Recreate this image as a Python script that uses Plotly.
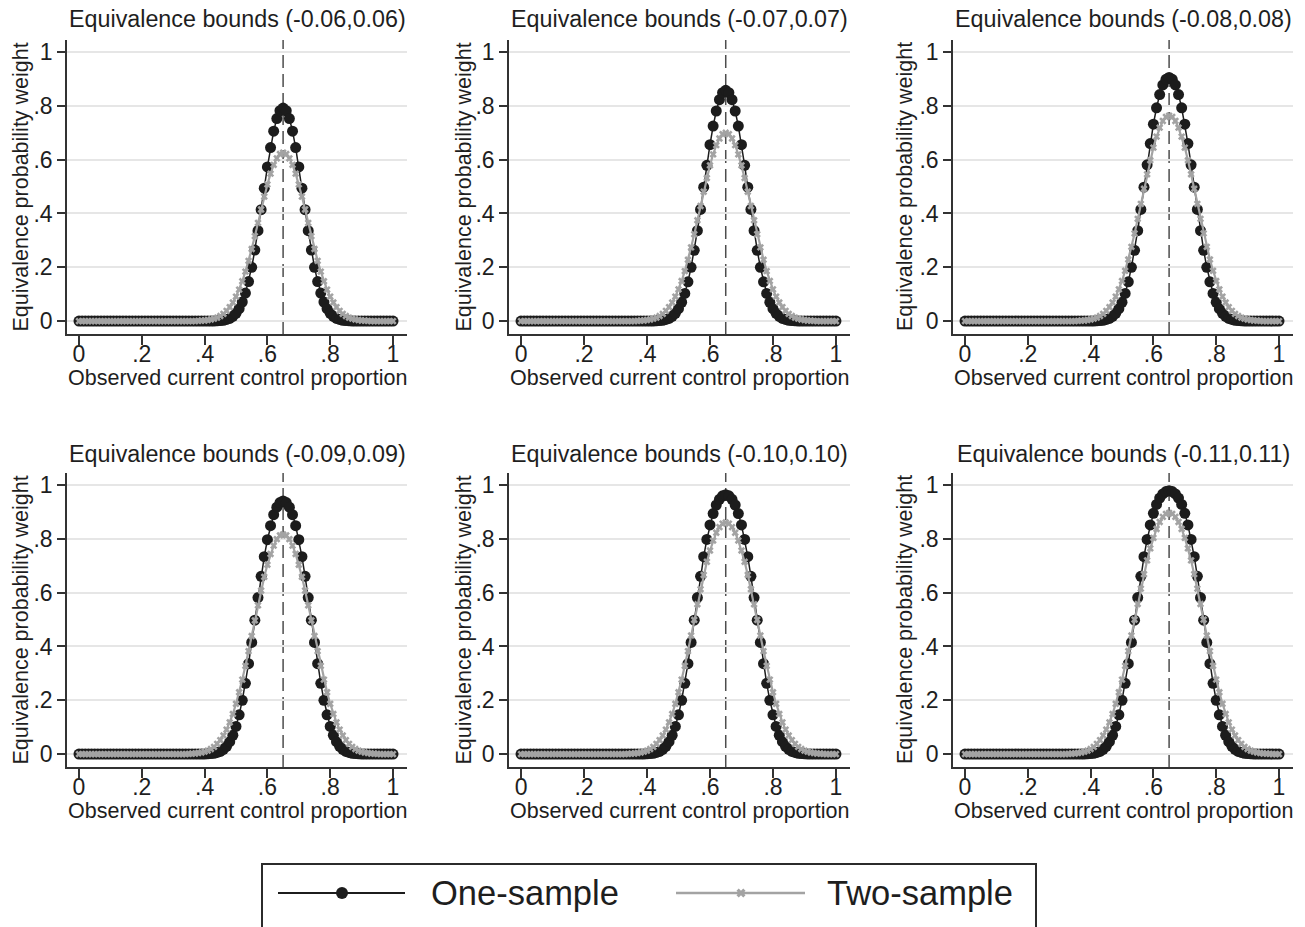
import plotly.graph_objects as go

# ---------------- data ----------------
x_vals = [round(i * 0.01, 2) for i in range(101)]   # observed current control proportion grid
center_value = 0.65
panel_titles = ["Equivalence bounds (-0.06,0.06)", "Equivalence bounds (-0.07,0.07)",
                "Equivalence bounds (-0.08,0.08)", "Equivalence bounds (-0.09,0.09)",
                "Equivalence bounds (-0.10,0.10)", "Equivalence bounds (-0.11,0.11)"]
tick_vals = [0, 0.2, 0.4, 0.6, 0.8, 1]
tick_text = ["0", ".2", ".4", ".6", ".8", "1"]
series_names = ["One-sample", "Two-sample"]

one_006 = [0] * 44 + [
    .001, .002, .003, .006, .010, .018, .029, .046, .071, .104, .147, .200, .264, .336, .414, .494, .573, .645, .706, .753, .782,
    .792,
    .782, .753, .706, .645, .573, .494, .414, .336, .264, .200, .147, .104, .071, .046, .029, .018, .010, .006, .003, .002, .001,
] + [0] * 14
two_006 = [0] * 38 + [
    .001, .002, .002, .004, .006, .009, .013, .019, .027, .038, .052, .069, .091, .117, .148, .184, .224, .268, .316, .365, .415, .463, .508, .548, .581, .605, .621,
    .626,
    .621, .605, .581, .548, .508, .463, .415, .365, .316, .268, .224, .184, .148, .117, .091, .069, .052, .038, .027, .019, .013, .009, .006, .004, .002, .002, .001,
] + [0] * 8

one_007 = [0] * 43 + [
    .001, .002, .003, .006, .010, .018, .029, .046, .070, .103, .146, .200, .263, .336, .415, .498, .579, .656, .725, .781, .823, .849,
    .858,
    .849, .823, .781, .725, .656, .579, .498, .415, .336, .263, .200, .146, .103, .070, .046, .029, .018, .010, .006, .003, .002, .001,
] + [0] * 13
two_007 = [0] * 37 + [
    .001, .002, .002, .004, .006, .009, .013, .019, .027, .038, .052, .069, .091, .118, .149, .186, .228, .274, .323, .375, .428, .481, .532, .579, .620, .654, .679, .695,
    .700,
    .695, .679, .654, .620, .579, .532, .481, .428, .375, .323, .274, .228, .186, .149, .118, .091, .069, .052, .038, .027, .019, .013, .009, .006, .004, .002, .002, .001,
] + [0] * 7

one_008 = [0] * 42 + [
    .001, .002, .003, .006, .010, .018, .029, .046, .070, .103, .146, .200, .263, .336, .415, .498, .581, .660, .732, .793, .842, .878, .899,
    .906,
    .899, .878, .842, .793, .732, .660, .581, .498, .415, .336, .263, .200, .146, .103, .070, .046, .029, .018, .010, .006, .003, .002, .001,
] + [0] * 12
two_008 = [0] * 36 + [
    .001, .002, .002, .004, .006, .009, .013, .019, .027, .038, .052, .069, .091, .118, .149, .187, .229, .276, .326, .380, .436, .492, .546, .598, .645, .686, .719, .744, .759,
    .764,
    .759, .744, .719, .686, .645, .598, .546, .492, .436, .380, .326, .276, .229, .187, .149, .118, .091, .069, .052, .038, .027, .019, .013, .009, .006, .004, .002, .002, .001,
] + [0] * 6

one_009 = [0] * 41 + [
    .001, .002, .003, .006, .010, .018, .029, .046, .070, .103, .146, .200, .263, .336, .415, .498, .582, .661, .734, .797, .849, .890, .918, .935,
    .941,
    .935, .918, .890, .849, .797, .734, .661, .582, .498, .415, .336, .263, .200, .146, .103, .070, .046, .029, .018, .010, .006, .003, .002, .001,
] + [0] * 11
two_009 = [0] * 35 + [
    .001, .002, .002, .004, .006, .009, .013, .019, .027, .038, .052, .069, .091, .118, .149, .187, .230, .277, .328, .383, .439, .497, .553, .608, .659, .704, .744, .775, .799, .813,
    .817,
    .813, .799, .775, .744, .704, .659, .608, .553, .497, .439, .383, .328, .277, .230, .187, .149, .118, .091, .069, .052, .038, .027, .019, .013, .009, .006, .004, .002, .002, .001,
] + [0] * 5

one_010 = [0] * 40 + [
    .001, .002, .003, .006, .010, .018, .029, .046, .070, .103, .146, .200, .263, .336, .415, .498, .582, .661, .734, .798, .852, .894, .926, .947, .960,
    .964,
    .960, .947, .926, .894, .852, .798, .734, .661, .582, .498, .415, .336, .263, .200, .146, .103, .070, .046, .029, .018, .010, .006, .003, .002, .001,
] + [0] * 10
two_010 = [0] * 34 + [
    .001, .002, .002, .004, .006, .009, .013, .019, .027, .038, .052, .069, .091, .118, .149, .187, .230, .277, .328, .383, .441, .499, .557, .613, .666, .715, .757, .794, .823, .844, .857,
    .861,
    .857, .844, .823, .794, .757, .715, .666, .613, .557, .499, .441, .383, .328, .277, .230, .187, .149, .118, .091, .069, .052, .038, .027, .019, .013, .009, .006, .004, .002, .002, .001,
] + [0] * 4

one_011 = [0] * 39 + [
    .001, .002, .003, .006, .010, .018, .029, .046, .070, .103, .146, .200, .263, .336, .415, .498, .582, .661, .734, .798, .852, .895, .928, .952, .967, .976,
    .979,
    .976, .967, .952, .928, .895, .852, .798, .734, .661, .582, .498, .415, .336, .263, .200, .146, .103, .070, .046, .029, .018, .010, .006, .003, .002, .001,
] + [0] * 9
two_011 = [0] * 33 + [
    .001, .002, .002, .004, .006, .009, .013, .019, .027, .038, .052, .069, .091, .118, .149, .187, .230, .277, .328, .383, .441, .500, .558, .615, .669, .720, .765, .804, .837, .863, .882, .893,
    .897,
    .893, .882, .863, .837, .804, .765, .720, .669, .615, .558, .500, .441, .383, .328, .277, .230, .187, .149, .118, .091, .069, .052, .038, .027, .019, .013, .009, .006, .004, .002, .002, .001,
] + [0] * 3

one_sample = [one_006, one_007, one_008, one_009, one_010, one_011]
two_sample = [two_006, two_007, two_008, two_009, two_010, two_011]
for s in one_sample + two_sample:
    assert len(s) == 101, len(s)

# ---------------- layout geometry (pixels) ----------------
W, H = 1305, 927
FONT = "Liberation Sans, Arial, Helvetica, sans-serif"
FS_AXT = 21.5     # axis titles
FS_TICK = 23      # tick labels
FS_TITLE = 23.3   # panel titles
TXT = "#1e1e1e"
BLACK = "#1c1c1c"
GRAY = "#a3a3a3"
AX = "#333333"

col_px = [(67, 407), (509, 850), (953, 1293)]
row_px = [(40, 334), (473, 767)]
ytitle_x = [20.5, 463.5, 905]
title_y = [19, 454]
xtitle_y = [378, 811]

fig = go.Figure()
layout = dict(
    width=W, height=H,
    margin=dict(l=0, r=0, t=0, b=0),
    paper_bgcolor="white", plot_bgcolor="rgba(0,0,0,0)",
    showlegend=False,
    font=dict(family=FONT, size=FS_AXT, color=TXT),
)
annotations = []
shapes = []

for p in range(6):
    r, c = divmod(p, 3)
    ax_id = "" if p == 0 else str(p + 1)
    xr, yr = f"x{ax_id}", f"y{ax_id}"
    x0, x1 = col_px[c]
    ytop, ybot = row_px[r]
    layout[f"xaxis{ax_id}"] = dict(
        domain=[x0 / W, x1 / W], anchor=yr, range=[-0.0382, 1.0446],
        showline=True, linecolor=AX, linewidth=1.5, mirror=False,
        ticks="outside", ticklen=9, tickwidth=1.5, tickcolor=AX,
        tickvals=tick_vals, ticktext=tick_text, showgrid=False, zeroline=False,
        tickfont=dict(family=FONT, size=FS_TICK, color=TXT), ticklabelstandoff=-10,
    )
    layout[f"yaxis{ax_id}"] = dict(
        domain=[1 - ybot / H, 1 - ytop / H], anchor=xr, range=[-0.048, 1.045],
        showline=True, linecolor=AX, linewidth=1.5, mirror=False,
        ticks="outside", ticklen=8, tickwidth=1.5, tickcolor=AX,
        tickvals=tick_vals, ticktext=tick_text,
        showgrid=True, gridcolor="#e6e6e6", gridwidth=1.5, zeroline=False,
        tickfont=dict(family=FONT, size=FS_TICK, color=TXT),
    )
    # dashed reference line at the true proportion
    shapes.append(dict(type="line", xref=xr, yref=f"{yr} domain", x0=center_value, x1=center_value,
                       y0=0, y1=1, line=dict(color="#4d4d4d", width=1.5, dash="13px,6px"), layer="below"))
    fig.add_trace(go.Scatter(
        x=x_vals, y=one_sample[p], xaxis=xr, yaxis=yr, name=series_names[0], mode="lines+markers",
        line=dict(color=BLACK, width=1.5), marker=dict(symbol="circle", size=11, color=BLACK),
        cliponaxis=False))
    fig.add_trace(go.Scatter(
        x=x_vals, y=two_sample[p], xaxis=xr, yaxis=yr, name=series_names[1], mode="lines+markers",
        line=dict(color=GRAY, width=2.2), marker=dict(symbol="x", size=6.5, color=GRAY, line=dict(width=0)),
        cliponaxis=False))
    xc = (x0 + x1) / 2
    annotations.append(dict(text=panel_titles[p], xref="paper", yref="paper", x=xc / W, y=1 - title_y[r] / H,
                            xanchor="center", yanchor="middle", showarrow=False,
                            font=dict(size=FS_TITLE, color=TXT)))
    annotations.append(dict(text="Observed current control proportion", xref="paper", yref="paper",
                            x=xc / W, y=1 - xtitle_y[r] / H, xanchor="center", yanchor="middle",
                            showarrow=False, font=dict(size=FS_AXT, color=TXT)))
    annotations.append(dict(text="Equivalence probability weight", xref="paper", yref="paper",
                            x=ytitle_x[c] / W, y=1 - (ytop + ybot) / 2 / H, xanchor="center", yanchor="middle",
                            textangle=-90, showarrow=False, font=dict(size=FS_AXT, color=TXT)))

# ---------------- custom legend ----------------
LX0, LX1, LY0, LY1 = 262, 1036, 864, 927
layout["xaxis7"] = dict(domain=[LX0 / W, LX1 / W], range=[LX0, LX1], visible=False, anchor="y7", fixedrange=True)
layout["yaxis7"] = dict(domain=[0, 1 - LY0 / H], range=[LY1, LY0], visible=False, anchor="x7", fixedrange=True)
shapes.append(dict(type="rect", xref="paper", yref="paper", x0=LX0 / W, x1=LX1 / W, y0=-0.05, y1=1 - LY0 / H,
                   line=dict(color="#2b2b2b", width=2), fillcolor="rgba(0,0,0,0)"))
ly = 893
fig.add_trace(go.Scatter(x=[278, 405], y=[ly, ly], xaxis="x7", yaxis="y7", mode="lines",
                         line=dict(color=BLACK, width=2), hoverinfo="skip"))
fig.add_trace(go.Scatter(x=[342], y=[ly], xaxis="x7", yaxis="y7", mode="markers",
                         marker=dict(symbol="circle", size=12, color=BLACK), hoverinfo="skip"))
fig.add_trace(go.Scatter(x=[676, 805], y=[ly, ly], xaxis="x7", yaxis="y7", mode="lines",
                         line=dict(color=GRAY, width=2.5), hoverinfo="skip"))
fig.add_trace(go.Scatter(x=[741], y=[ly], xaxis="x7", yaxis="y7", mode="markers",
                         marker=dict(symbol="x", size=8, color=GRAY, line=dict(width=0)), hoverinfo="skip"))
annotations.append(dict(text=series_names[0], xref="paper", yref="paper", x=429 / W, y=1 - ly / H,
                        xanchor="left", yanchor="middle", showarrow=False, font=dict(size=34.5, color=TXT)))
annotations.append(dict(text=series_names[1], xref="paper", yref="paper", x=825 / W, y=1 - ly / H,
                        xanchor="left", yanchor="middle", showarrow=False, font=dict(size=34.5, color=TXT)))

layout["annotations"] = annotations
layout["shapes"] = shapes
fig.update_layout(**layout)
fig.write_html("out.html", config={"displayModeBar": False},
               post_script="document.body.style.margin='0';document.body.style.overflow='hidden';")
